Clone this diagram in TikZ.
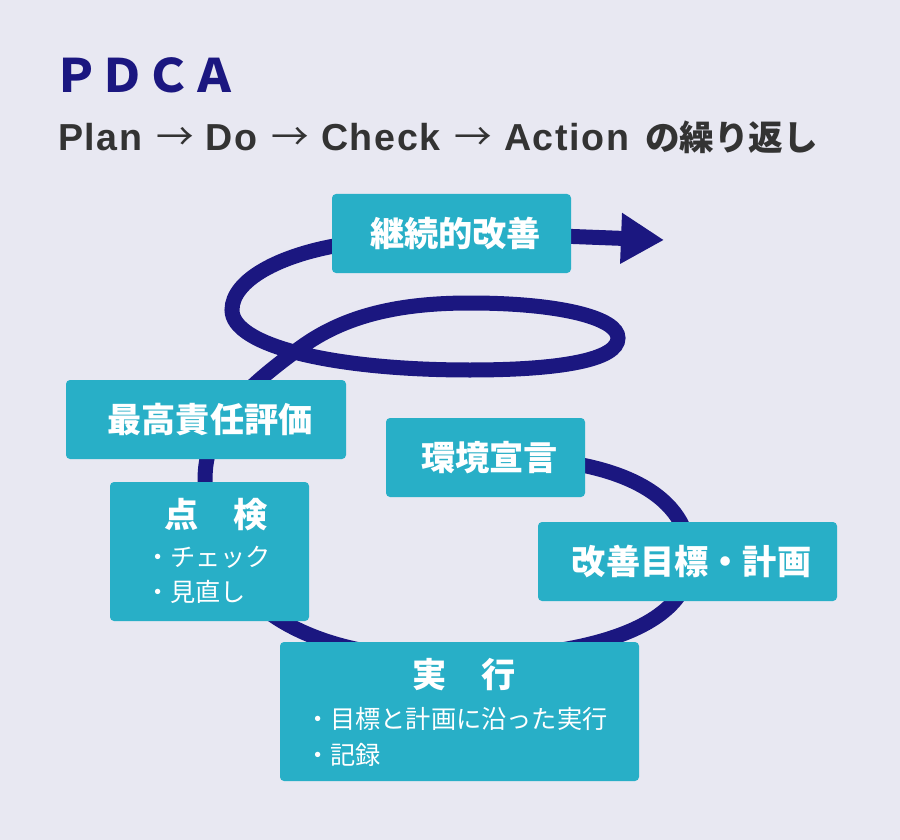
\documentclass[tikz,border=0pt]{standalone}
\usepackage{fontspec}
\setmainfont{Noto Sans CJK JP}
\newfontfamily\latinfont{Liberation Sans}[LetterSpace=4.3]
\usetikzlibrary{arrows.meta,positioning}
\definecolor{bgcol}{HTML}{E8E8F2}
\definecolor{navy}{HTML}{1B1780}
\definecolor{boxcol}{HTML}{28AFC7}
\definecolor{subcol}{HTML}{333333}
\newcommand\subarr{\hspace{7pt}{\mdseries →}\hspace{6pt}}

\begin{document}
\begin{tikzpicture}[x=0.5pt,y=-0.5pt,
  every node/.style={inner sep=0pt, outer sep=0pt},
  box/.style={fill=boxcol, rounded corners=2pt, text=white, font=\bfseries\fontsize{17.1pt}{20pt}\selectfont},
  head/.style={text=white, font=\bfseries\fontsize{17.1pt}{20pt}\selectfont},
  item/.style={text=white, anchor=west, font=\fontsize{12.6pt}{15pt}\selectfont},
  spiral/.style={navy, line width=7.5pt}]
  \fill[bgcol] (0,0) rectangle (900,840);
  \useasboundingbox (0,0) rectangle (900,840);

  % title
  \node[anchor=base west, text=navy, font=\bfseries\fontsize{23pt}{26pt}\selectfont] (title) at (54,93) {ＰＤＣＡ};
  \node[anchor=base west, text=subcol, font=\bfseries\fontsize{18.8pt}{22pt}\selectfont] (subtitle) at (58,150)
    {{\latinfont Plan}\subarr{\latinfont Do}\subarr{\latinfont Check}\subarr{\latinfont Action}\hspace{8pt}{\fontsize{17.3pt}{20pt}\selectfont の繰り返し}};

  % spiral
  \draw[spiral] (520,458) .. controls (620,462) and (690,495) .. (690,560)
    .. controls (690,630) and (580,658) .. (455,658)
    .. controls (330,660) and (207,620) .. (205,480)
    .. controls (205,430) and (235,395) .. (300,348)
    .. controls (345,315) and (400,303) .. (470,303)
    .. controls (560,303) and (618,318) .. (618,338)
    .. controls (618,360) and (560,370) .. (470,370)
    .. controls (330,370) and (232,345) .. (232,310)
    .. controls (232,280) and (280,255) .. (340,245);
  \coordinate (tip) at (664,240);
  \draw[spiral, -{Triangle[length=21.5pt,width=24pt]}] (340,245) -- (560,236) -- (tip);

  % boxes
  \foreach \n/\x/\y/\w/\h/\t in {
    kaizen/451.5/233.5/119.5/39.5/継続的改善,
    hyouka/206/419.5/140/39.5/最高責任評価,
    sengen/485.5/457.5/99.5/39.5/環境宣言,
    keikaku/687.5/561.5/149.5/39.5/改善目標・計画,
    tenken/209.5/551.5/99.5/69.5/,
    jikkou/459.5/711.5/179.5/69.5/}{
      \node[box, minimum width=\w pt, minimum height=\h pt] (\n) at (\x,\y) {\hspace{4pt}\t};
  }

  \node[head] (tenkenhead) at (216,515) {点　検};
  \node[item] (tenkeni) at (145,557) {・チェック};
  \node[item, below=17.5pt of tenkeni.west, anchor=west] (tenkenii) {・見直し};

  \node[head] (jikkouhead) at (464,675) {実　行};
  \node[item] (jikkoui) at (305,719) {・目標と計画に沿った実行};
  \node[item, below=18pt of jikkoui.west, anchor=west] (jikkouii) {・記録};
\end{tikzpicture}
\end{document}
